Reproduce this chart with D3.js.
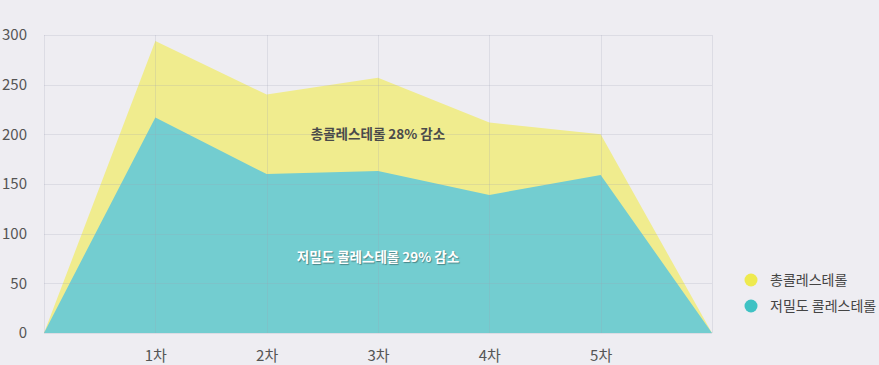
<!DOCTYPE html>
<html>
<head>
<meta charset="utf-8">
<script src="https://cdn.jsdelivr.net/npm/d3@7"></script>
<style>
  body { margin: 0; background: #eeedf2; }
  svg text { font-family: "Noto Sans CJK KR", "Noto Sans", sans-serif; }
</style>
</head>
<body>
<div id="chart"></div>
<script>
const stages = ["", "1차", "2차", "3차", "4차", "5차", ""]
const totalChol = [0, 294, 240, 257, 212, 200, 0]
const ldlChol = [0, 217, 160, 163, 139, 159, 0]
const yTicks = [0, 50, 100, 150, 200, 250, 300]
const seriesNames = ["총콜레스테롤", "저밀도 콜레스테롤"]
const seriesColors = ["#eeea4f", "#3fc2c4"]
const notes = ["총콜레스테롤 28% 감소", "저밀도 콜레스테롤 29% 감소"]

const dimensions = {
  width: 879,
  height: 365,
  margin: { top: 35, right: 167, bottom: 32, left: 44 }
}
dimensions.boundedWidth = dimensions.width - dimensions.margin.left - dimensions.margin.right
dimensions.boundedHeight = dimensions.height - dimensions.margin.top - dimensions.margin.bottom

const wrapper = d3.select("#chart")
  .append("svg")
  .attr("width", dimensions.width)
  .attr("height", dimensions.height)

wrapper.append("rect")
  .attr("width", dimensions.width)
  .attr("height", dimensions.height)
  .attr("fill", "#eeedf2")

const bounds = wrapper.append("g")
  .attr("transform", `translate(${dimensions.margin.left},${dimensions.margin.top})`)

const xScale = d3.scaleLinear()
  .domain([0, stages.length - 1])
  .range([0, dimensions.boundedWidth])

const yScale = d3.scaleLinear()
  .domain([0, 300])
  .range([dimensions.boundedHeight, 0])

const area = d3.area()
  .x((d, i) => xScale(i))
  .y0(yScale(0))
  .y1(d => yScale(d))

// areas
bounds.append("path")
  .datum(totalChol)
  .attr("d", area)
  .attr("fill", "#f0ec8e")

bounds.append("path")
  .datum(ldlChol)
  .attr("d", area)
  .attr("fill", "#73cdd0")

// grid on top, faint
const grid = bounds.append("g").attr("class", "grid")
grid.selectAll(".h")
  .data(yTicks)
  .join("line")
  .attr("x1", 0)
  .attr("x2", dimensions.boundedWidth)
  .attr("y1", d => Math.round(yScale(d)) + 0.5)
  .attr("y2", d => Math.round(yScale(d)) + 0.5)
  .attr("stroke", "#a0a0b0")
  .attr("stroke-opacity", 0.22)

grid.selectAll(".v")
  .data(d3.range(stages.length))
  .join("line")
  .attr("x1", d => Math.round(xScale(d)) + 0.5)
  .attr("x2", d => Math.round(xScale(d)) + 0.5)
  .attr("y1", 0)
  .attr("y2", dimensions.boundedHeight)
  .attr("stroke", "#a0a0b0")
  .attr("stroke-opacity", 0.22)

// y axis labels
const yAxis = d3.axisLeft(yScale)
  .tickValues(yTicks)
  .tickSize(0)
  .tickPadding(17)
bounds.append("g")
  .call(yAxis)
  .call(g => g.select(".domain").remove())
  .selectAll("text")
  .attr("fill", "#555")
  .attr("font-size", 15)
  .attr("dy", "0.33em")

// x axis labels
const xAxis = d3.axisBottom(xScale)
  .tickValues(d3.range(1, stages.length - 1))
  .tickFormat(i => stages[i])
  .tickSize(0)
  .tickPadding(17)
bounds.append("g")
  .attr("transform", `translate(0,${dimensions.boundedHeight})`)
  .call(xAxis)
  .call(g => g.select(".domain").remove())
  .selectAll("text")
  .attr("fill", "#555")
  .attr("font-size", 15)

// annotations
bounds.append("text")
  .attr("x", xScale(3))
  .attr("y", yScale(200))
  .attr("dy", "0.35em")
  .attr("text-anchor", "middle")
  .attr("font-size", 13.5)
  .attr("font-weight", "bold")
  .attr("fill", "#4a4a4a")
  .text(notes[0])

bounds.append("text")
  .attr("x", xScale(3))
  .attr("y", yScale(76))
  .attr("dy", "0.35em")
  .attr("text-anchor", "middle")
  .attr("font-size", 13.5)
  .attr("font-weight", "bold")
  .attr("fill", "#fff")
  .style("text-shadow", "1px 1px 1px rgba(0,0,0,0.35)")
  .text(notes[1])

// legend
const legend = wrapper.append("g")
  .attr("transform", "translate(751,280)")
const items = legend.selectAll("g")
  .data(seriesNames)
  .join("g")
  .attr("transform", (d, i) => `translate(0,${i * 26})`)
items.append("circle")
  .attr("r", 6.5)
  .attr("fill", (d, i) => seriesColors[i])
items.append("text")
  .attr("x", 19)
  .attr("dy", "0.35em")
  .attr("font-size", 14)
  .attr("fill", "#444")
  .text(d => d)
</script>
</body>
</html>
